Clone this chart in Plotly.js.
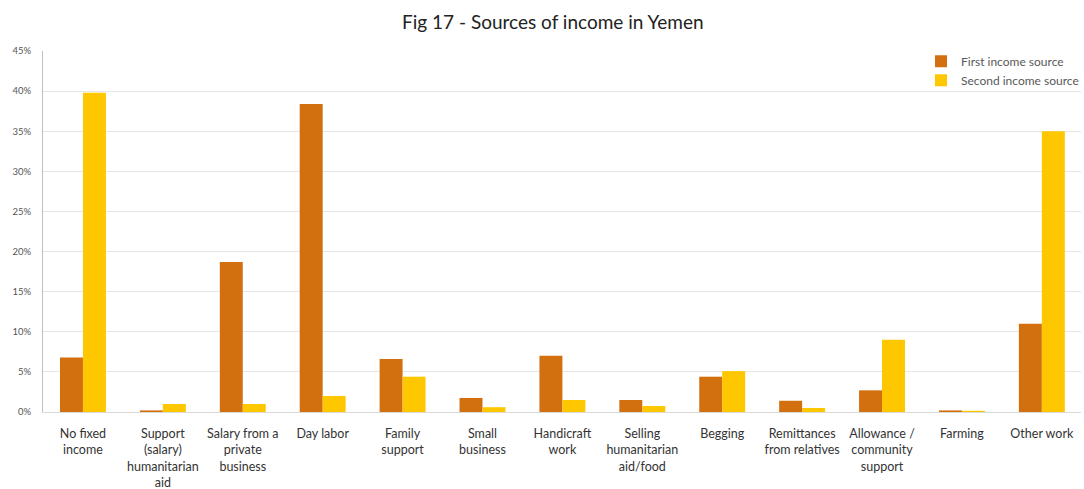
<!DOCTYPE html>
<html>
<head>
<meta charset="utf-8">
<script src="https://cdn.plot.ly/plotly-3.0.1.min.js"></script>
<style>html,body{margin:0;padding:0;background:#fff;}#chart{width:1084px;height:489px;}</style>
</head>
<body>
<div id="chart"></div>
<script>
const categories = [
  "No fixed<br>income",
  "Support<br>(salary)<br>humanitarian<br>aid",
  "Salary from a<br>private<br>business",
  "Day labor",
  "Family<br>support",
  "Small<br>business",
  "Handicraft<br>work",
  "Selling<br>humanitarian<br>aid/food",
  "Begging",
  "Remittances<br>from relatives",
  "Allowance /<br>community<br>support",
  "Farming",
  "Other work"
];
const firstIncome = [6.8, 0.2, 18.7, 38.4, 6.6, 1.75, 7.0, 1.5, 4.4, 1.4, 2.7, 0.2, 11.0];
const secondIncome = [39.8, 1.0, 1.0, 2.0, 4.4, 0.6, 1.5, 0.75, 5.1, 0.5, 9.0, 0.15, 35.0];
const seriesNames = ["First income source", "Second income source"];
const yTicks = [0, 5, 10, 15, 20, 25, 30, 35, 40, 45];

const font = "Lato, 'Open Sans', sans-serif";
const data = [
  {type: "bar", x: categories, y: firstIncome, name: seriesNames[0], marker: {color: "#D2700F"}},
  {type: "bar", x: categories, y: secondIncome, name: seriesNames[1], marker: {color: "#FFC700"}}
];
const layout = {
  width: 1084, height: 489,
  margin: {l: 43, r: 0, t: 51, b: 77},
  paper_bgcolor: "#fff", plot_bgcolor: "#fff",
  font: {family: font, color: "#404040"},
  title: {text: "Fig 17 - Sources of income in Yemen", x: 0.51, xanchor: "center", y: 0.955, yanchor: "middle", font: {size: 19, color: "#222", family: font}},
  barmode: "group", bargap: 0.425, bargroupgap: 0,
  xaxis: {
    range: [-0.5, 12.49],
    showgrid: false, showline: true, linecolor: "#d9d9d9", linewidth: 1,
    ticks: "", tickfont: {size: 12.5, color: "#333"}, tickangle: 0, automargin: false,
    ticklabelstandoff: 10
  },
  yaxis: {
    range: [0, 45], tickvals: yTicks, ticktext: yTicks.map(v => v + "%"),
    showgrid: true, gridcolor: "#e6e6e6", gridwidth: 1,
    showline: true, linecolor: "#bfbfbf", linewidth: 1,
    zeroline: false, ticks: "", tickfont: {size: 9.5, color: "#555"}, automargin: false,
    ticklabelstandoff: 9
  },
  legend: {
    x: 1.003, xanchor: "right", y: 1.012, yanchor: "top",
    bgcolor: "rgba(0,0,0,0)", font: {size: 12, color: "#595959", family: font},
    tracegroupgap: 0, itemwidth: 30
  },
  showlegend: true
};
Plotly.newPlot("chart", data, layout, {displayModeBar: false, staticPlot: true});
</script>
</body>
</html>
